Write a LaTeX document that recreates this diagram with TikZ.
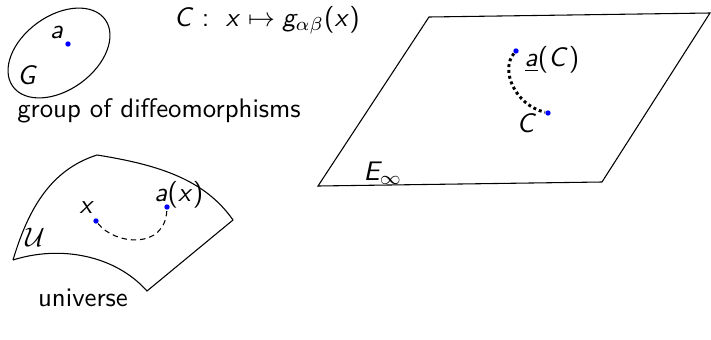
\documentclass[tikz,border=0pt]{standalone}
\DeclareSymbolFont{operators}{OT1}{cmss}{m}{n}
\DeclareSymbolFont{sfletters}{OT1}{cmss}{m}{sl}
\DeclareMathSymbol{a}{\mathalpha}{sfletters}{`a}
\DeclareMathSymbol{x}{\mathalpha}{sfletters}{`x}
\DeclareMathSymbol{g}{\mathalpha}{sfletters}{`g}
\DeclareMathSymbol{C}{\mathalpha}{sfletters}{`C}
\DeclareMathSymbol{G}{\mathalpha}{sfletters}{`G}
\DeclareMathSymbol{E}{\mathalpha}{sfletters}{`E}
\renewcommand{\familydefault}{\sfdefault}
\begin{document}
\begin{tikzpicture}
  [x=0.0131cm,y=-0.0131cm,every node/.style={inner sep=1pt},
   pt/.style={circle,fill=blue,draw=none,inner sep=0pt,minimum size=2pt}]
  \useasboundingbox (0,0) rectangle (711,339);

  % groupe G
  \draw[rotate around={36:(59,53)}] (59,53) ellipse (57 and 37);
  \node[pt] (a) at (68,44) {};
  \node (la) at (57,33) {$a$};
  \node (lG) at (28,75) {$G$};
  \node (lgroup) at (159,111) {group of diffeomorphisms};

  \node (map) at (267,20) {$C:\ x\mapsto g_{\alpha\beta}(x)$};

  % univers U
  \draw (13,260) .. controls (28,210) and (50,170) .. (97,155)
        .. controls (160,165) and (205,180) .. (233,220)
        -- (147,291)
        .. controls (115,255) and (60,245) .. (13,260);
  \node[pt] (x) at (96,221) {};
  \node[pt] (ax) at (167,207) {};
  \node (lx) at (87,208) {$x$};
  \node (lax) at (179,195) {$a(x)$};
  \node (lU) at (35,237) {$\mathcal{U}$};
  \node (luniv) at (83,298) {universe};
  \draw[dash pattern=on 2pt off 1.5pt] (x) .. controls (115,245) and (165,250) .. (ax);

  % plan E_infty
  \draw (429,17) -- (710,13) -- (602,182) -- (318,186) -- cycle;
  \node (lE) at (383,173) {$E_\infty$};
  \node[pt] (aC) at (516,51) {};
  \node[pt] (C) at (548,113) {};
  \node (laC) at (552,60) {$\underline{a}(C)$};
  \node (lC) at (527,123) {$C$};
  \draw[line width=1.1pt,dash pattern=on 1.1pt off 1.1pt] (aC) .. controls (500,70) and (515,105) .. (C);

\end{tikzpicture}
\end{document}
